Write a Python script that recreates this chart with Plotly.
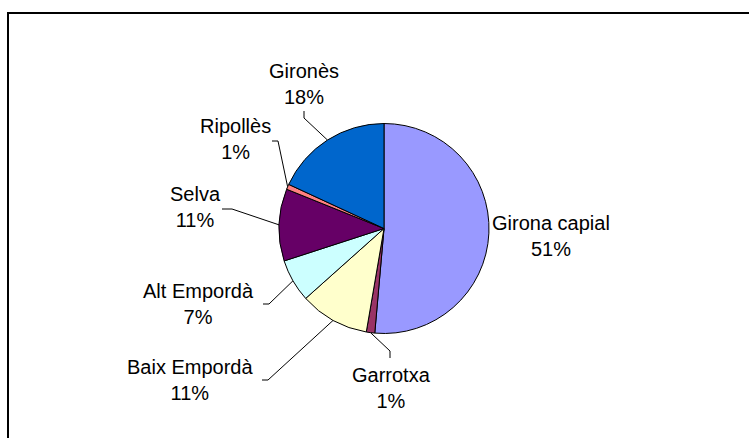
import math
import plotly.graph_objects as go

# ── Data ──────────────────────────────────────────────────────────────────────

labels = ["Girona capial", "Garrotxa", "Baix Empordà", "Alt Empordà",
          "Selva", "Ripollès", "Gironès"]
values = [51.4, 1.3, 10.7, 6.6, 11.1, 0.8, 18.1]
colors = ["#9999FF", "#993366", "#FFFFCC", "#CCFFFF",
          "#660066", "#FF8080", "#0066CC"]

# ── Layout constants (pixels) ────────────────────────────────────────────────

W, H = 749, 438
CX, CY, R = 384, 228.5, 105
FONT = dict(family="Liberation Sans, Arial, sans-serif", size=20, color="#000000")

# label centre, leader start near text, leader elbow (None = no leader)
label_pos = {
    "Girona capial": ((551, 236), None, None),
    "Garrotxa": ((391, 388), (390, 358), (390, 351)),
    "Baix Empordà": ((190, 380), (262, 380), (268, 380)),
    "Alt Empordà": ((198, 304), (263, 304), (269, 304)),
    "Selva": ((195, 207), (222, 209), (232, 209)),
    "Ripollès": ((235, 139), (272, 141), (278, 141)),
    "Gironès": ((304, 84), (304, 111), (304, 118)),
}

fig = go.Figure()

fig.add_trace(go.Pie(
    labels=labels,
    values=values,
    sort=False,
    direction="clockwise",
    rotation=0,
    marker=dict(colors=colors, line=dict(color="#000000", width=1)),
    textinfo="none",
    hoverinfo="label+percent",
    showlegend=False,
    domain=dict(x=[(CX - R) / W, (CX + R) / W],
                y=[1 - (CY + R) / H, 1 - (CY - R) / H]),
))

total = sum(values)
cum = 0.0
annotations = []
for lab, val in zip(labels, values):
    mid = (cum + val / 2) / total * 2 * math.pi
    cum += val
    px_ = CX + R * math.sin(mid)
    py_ = CY - R * math.cos(mid)
    (tx, ty), start, elbow = label_pos[lab]
    annotations.append(dict(
        x=tx, y=ty, xref="x", yref="y",
        text=f"{lab}<br>{round(val / total * 100)}%",
        showarrow=False, font=FONT, align="center",
        xanchor="center", yanchor="middle",
    ))
    if start is not None:
        fig.add_trace(go.Scatter(
            x=[start[0], elbow[0], px_], y=[start[1], elbow[1], py_],
            mode="lines", line=dict(color="#000000", width=1),
            hoverinfo="skip", showlegend=False,
        ))

fig.update_layout(
    width=W, height=H,
    margin=dict(l=0, r=0, t=0, b=0),
    paper_bgcolor="white",
    plot_bgcolor="white",
    xaxis=dict(range=[0, W], visible=False, fixedrange=True),
    yaxis=dict(range=[H, 0], visible=False, fixedrange=True),
    annotations=annotations,
    shapes=[
        dict(type="line", xref="paper", yref="y", x0=8 / W, y0=13, x1=1, y1=13,
             line=dict(color="#000000", width=2)),
        dict(type="line", xref="x", yref="paper", x0=8, y0=1 - 12 / H, x1=8, y1=0,
             line=dict(color="#000000", width=2)),
    ],
)

fig.write_html(
    "out.html",
    config={"displayModeBar": False},
    post_script="document.documentElement.style.overflow='hidden';"
                "document.documentElement.style.background='white';"
                "document.body.style.margin='0';document.body.style.overflow='hidden';"
                "document.body.style.background='white';",
)
